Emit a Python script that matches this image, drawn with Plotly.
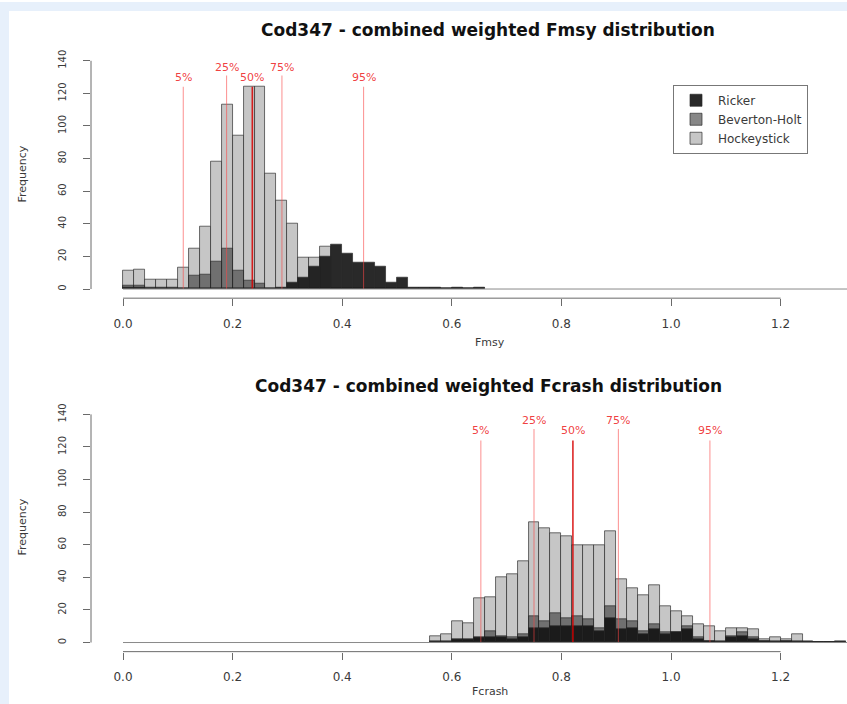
import plotly.graph_objects as go

# ---------------- data ----------------
bin_width = 0.02

fmsy_start = 0.0
fmsy_hockey = [11, 12, 6, 6, 6, 13, 25, 38, 78, 113, 94, 124, 124, 71, 54, 40, 19, 19, 26,
               0, 0, 0, 0, 0, 0, 0, 0, 0, 0, 0, 0, 0, 0]
fmsy_bevholt = [2, 2, 1, 1, 1, 0, 8, 9, 17, 25, 11, 5, 3, 0, 0, 0, 0, 0, 0,
                0, 0, 0, 0, 0, 0, 0, 0, 0, 0, 0, 0, 0, 0]
fmsy_ricker = [1, 1, 0, 0, 0, 0, 0, 0, 0, 0, 0, 0, 0, 0, 1, 4, 7, 14, 20,
               27, 22, 16, 16, 14, 4, 7, 1, 1, 1, 0, 1, 0, 1]

fcrash_start = 0.56
fcrash_hockey = [4, 5, 13, 12, 27, 28, 40, 42, 50, 74, 70, 67, 65, 60, 60, 60, 68, 39, 33, 29,
                 35, 22, 19, 16, 11, 10, 7, 9, 9, 8, 2, 3, 2, 5, 1, 0, 0, 1]
fcrash_bevholt = [1, 1, 1, 1, 2, 7, 4, 3, 5, 16, 13, 18, 15, 16, 14, 9, 22, 14, 13, 7,
                  11, 6, 6, 10, 3, 1, 1, 4, 6, 3, 1, 1, 1, 1, 0, 0, 0, 0]
fcrash_ricker = [0, 0, 2, 2, 3, 3, 3, 2, 3, 9, 9, 10, 10, 10, 10, 7, 15, 8, 9, 5,
                 8, 5, 6, 8, 2, 1, 0, 3, 4, 2, 1, 0, 1, 0, 0, 0, 0, 0]

pct_labels = ["5%", "25%", "50%", "75%", "95%"]
fmsy_pct = [0.110, 0.189, 0.236, 0.290, 0.439]
fcrash_pct = [0.653, 0.750, 0.821, 0.904, 1.071]
pct_line_top = [124, 131, 124, 131, 124]
pct_label_y = [130, 136, 130, 136, 130]

x_ticks = [0.0, 0.2, 0.4, 0.6, 0.8, 1.0, 1.2]
x_ticktext = ["0.0", "0.2", "0.4", "0.6", "0.8", "1.0", "1.2"]
y_ticks = [0, 20, 40, 60, 80, 100, 120, 140]
hist_end = 1.33

titles = ["Cod347 - combined weighted Fmsy distribution",
          "Cod347 - combined weighted Fcrash distribution"]
xlabels = ["Fmsy", "Fcrash"]
ylabel = "Frequency"
series_names = ["Hockeystick", "Beverton-Holt", "Ricker"]

# ---------------- styling ----------------
W, H = 847, 704
ML = 91
FONT = "DejaVu Sans"
col_hs = "rgb(198,198,198)"
col_bh = "rgba(55,55,55,0.6)"
col_rk = "rgba(18,18,18,0.9)"
outline = "rgba(40,40,40,0.75)"
axis_col = "#6a6a6a"
txt_col = "#3a3a3a"
red = "rgba(238,40,40,0.9)"

top_dom = [1 - 297 / H, 1 - 49.8 / H]
bot_dom = [1 - 651.5 / H, 1 - 404.4 / H]
xrange = [(ML - 123) / 548.0, (W - 123) / 548.0]
yrange = [-5.6, 145.6]

fig = go.Figure()

def add_hist(start, hs, bh, rk, xa, ya, legend):
    for name, vals, col, rank in [(series_names[0], hs, col_hs, 3),
                                  (series_names[1], bh, col_bh, 2),
                                  (series_names[2], rk, col_rk, 1)]:
        xs = [start + i * bin_width for i in range(len(vals))]
        fig.add_trace(go.Bar(
            x=xs, y=vals, width=bin_width, offset=0, name=name,
            marker=dict(color=col, line=dict(color=outline, width=0.9)),
            xaxis=xa, yaxis=ya, showlegend=legend, legendrank=rank,
            hoverinfo="skip"))

add_hist(fmsy_start, fmsy_hockey, fmsy_bevholt, fmsy_ricker, "x", "y", True)
add_hist(fcrash_start, fcrash_hockey, fcrash_bevholt, fcrash_ricker, "x2", "y2", False)

annotations = []
shapes = []

def add_pct(pcts, xa, ya):
    for i, q in enumerate(pcts):
        is_med = pct_labels[i] == "50%"
        fig.add_trace(go.Scatter(
            x=[q, q], y=[0, pct_line_top[i]], mode="lines",
            line=dict(color="rgba(215,0,0,0.85)" if is_med else "rgba(250,70,70,0.55)",
                      width=1.6 if is_med else 1.1),
            xaxis=xa, yaxis=ya, showlegend=False, hoverinfo="skip"))
        annotations.append(dict(
            x=q, y=pct_label_y[i], xref=xa, yref=ya, text=pct_labels[i],
            showarrow=False, font=dict(family=FONT, size=11, color=red),
            xanchor="center", yanchor="middle"))

add_pct(fmsy_pct, "x", "y")
add_pct(fcrash_pct, "x2", "y2")

# baselines and R-style axis lines
for xa, ya in [("x", "y"), ("x2", "y2")]:
    shapes.append(dict(type="line", xref=xa, yref=ya, x0=0, x1=hist_end, y0=0, y1=0,
                       line=dict(color="#8a8a8a", width=1), layer="above"))
    shapes.append(dict(type="line", xref=xa, yref=ya + " domain", x0=x_ticks[0], x1=x_ticks[-1],
                       y0=0, y1=0, line=dict(color=axis_col, width=1)))
    shapes.append(dict(type="line", xref=xa + " domain", yref=ya, x0=0, x1=0,
                       y0=y_ticks[0], y1=y_ticks[-1], line=dict(color=axis_col, width=1)))

# light blue page border strips
shapes.append(dict(type="rect", xref="paper", yref="paper", x0=-ML / (W - ML), x1=1,
                   y0=1 - 9 / H, y1=1.0, fillcolor="#e7f0fb", line=dict(width=0), layer="below"))
shapes.append(dict(type="rect", xref="paper", yref="paper", x0=-ML / (W - ML), x1=-(ML - 9) / (W - ML),
                   y0=0, y1=1, fillcolor="#e7f0fb", line=dict(width=0), layer="below"))

def px_x(p):
    return (p - ML) / (W - ML)

def px_y(p):
    return 1 - p / H

# titles
for t, y in zip(titles, [28, 385]):
    annotations.append(dict(x=px_x(488), y=px_y(y), xref="paper", yref="paper",
                            text="<b>" + t + "</b>", showarrow=False,
                            font=dict(family=FONT, size=17, color="#111"),
                            xanchor="center", yanchor="middle"))
# axis titles
for t, y in zip(xlabels, [341, 691]):
    annotations.append(dict(x=px_x(490), y=px_y(y), xref="paper", yref="paper", text=t,
                            showarrow=False, font=dict(family=FONT, size=11, color=txt_col),
                            xanchor="center", yanchor="middle"))
for y in [173, 527]:
    annotations.append(dict(x=px_x(23), y=px_y(y), xref="paper", yref="paper", text=ylabel,
                            textangle=-90, showarrow=False,
                            font=dict(family=FONT, size=11, color=txt_col),
                            xanchor="center", yanchor="middle"))

xaxis_common = dict(range=xrange, tickvals=x_ticks, ticktext=x_ticktext, ticks="outside",
                    ticklen=7, tickcolor=axis_col, showline=False, showgrid=False, zeroline=False,
                    tickfont=dict(family=FONT, size=12, color=txt_col), ticklabelstandoff=7,
                    fixedrange=True)
yaxis_common = dict(range=yrange, tickvals=y_ticks, ticks="outside", ticklen=7, tickcolor=axis_col,
                    showline=False, showgrid=False, zeroline=False, tickangle=-90,
                    tickfont=dict(family=FONT, size=10, color=txt_col), ticklabelstandoff=13,
                    fixedrange=True)

fig.update_layout(
    width=W, height=H,
    margin=dict(l=ML, r=0, t=0, b=0),
    paper_bgcolor="white", plot_bgcolor="white",
    barmode="overlay", bargap=0,
    xaxis=dict(anchor="y", **xaxis_common),
    yaxis=dict(domain=top_dom, anchor="x", **yaxis_common),
    xaxis2=dict(anchor="y2", **xaxis_common),
    yaxis2=dict(domain=bot_dom, anchor="x2", **yaxis_common),
    legend=dict(x=px_x(673), y=px_y(83), xanchor="left", yanchor="top",
                bgcolor="white", bordercolor="#777", borderwidth=1,
                font=dict(family=FONT, size=12, color=txt_col),
                tracegroupgap=0, itemwidth=34),
    annotations=annotations, shapes=shapes,
    font=dict(family=FONT),
)

fig.write_html("out.html")
